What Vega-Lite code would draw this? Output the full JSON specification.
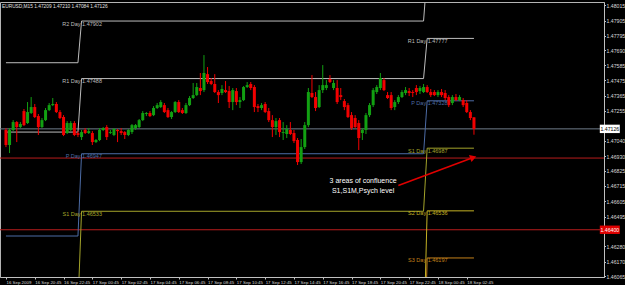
{
"$schema": "https://vega.github.io/schema/vega-lite/v6.json",
"width": 604, "height": 275,
"autosize": {"type": "none"},
"padding": {"left": 0, "top": 2, "right": 21, "bottom": 8},
"background": "#000000",
"title": {"text": "EURUSD,M15  1.47209 1.47210 1.47084 1.47126", "anchor": "start", "frame": "group", "orient": "top", "offset": -7, "fontSize": 4.8, "fontWeight": "normal", "color": "#e0e0e0", "font": "Liberation Sans", "dx": 2},
"config": {"view": {"stroke": "#b4b4b4", "fill": "#000000"}, "font": "Liberation Sans", "axis": {"labelOverlap": false, "labelBound": false, "labelFlush": false, "grid": false, "tickCount": 40}},
"datasets": {
"hlines": [
{"name": "bid", "p": 1.47126},
{"name": "alarm", "p": 1.46916},
{"name": "alarm", "p": 1.464}
],
"pivots": [
{"level": "R2", "t": "2009-09-16T18:45", "p": 1.47602}, {"level": "R2", "t": "2009-09-16T23:45", "p": 1.47602}, {"level": "R2", "t": "2009-09-17T00:00", "p": 1.47902}, {"level": "R2", "t": "2009-09-17T23:45", "p": 1.47902}, {"level": "R2", "t": "2009-09-18T00:00", "p": 1.4825}, {"level": "R2", "t": "2009-09-18T03:15", "p": 1.4825},
{"level": "R1", "t": "2009-09-16T18:45", "p": 1.47103}, {"level": "R1", "t": "2009-09-16T23:45", "p": 1.47103}, {"level": "R1", "t": "2009-09-17T00:00", "p": 1.47488}, {"level": "R1", "t": "2009-09-17T23:45", "p": 1.47488}, {"level": "R1", "t": "2009-09-18T00:00", "p": 1.47777}, {"level": "R1", "t": "2009-09-18T03:15", "p": 1.47777},
{"level": "P", "t": "2009-09-16T18:45", "p": 1.46355}, {"level": "P", "t": "2009-09-16T23:45", "p": 1.46355}, {"level": "P", "t": "2009-09-17T00:00", "p": 1.46947}, {"level": "P", "t": "2009-09-17T23:45", "p": 1.46947}, {"level": "P", "t": "2009-09-18T00:00", "p": 1.47328}, {"level": "P", "t": "2009-09-18T03:15", "p": 1.47328},
{"level": "S1", "t": "2009-09-16T18:45", "p": 1.4585}, {"level": "S1", "t": "2009-09-16T23:45", "p": 1.4585}, {"level": "S1", "t": "2009-09-17T00:00", "p": 1.46533}, {"level": "S1", "t": "2009-09-17T23:45", "p": 1.46533}, {"level": "S1", "t": "2009-09-18T00:00", "p": 1.46987}, {"level": "S1", "t": "2009-09-18T03:15", "p": 1.46987},
{"level": "S2", "t": "2009-09-16T18:45", "p": 1.455}, {"level": "S2", "t": "2009-09-16T23:45", "p": 1.455}, {"level": "S2", "t": "2009-09-17T00:00", "p": 1.4555}, {"level": "S2", "t": "2009-09-17T23:45", "p": 1.4555}, {"level": "S2", "t": "2009-09-18T00:00", "p": 1.46536}, {"level": "S2", "t": "2009-09-18T03:15", "p": 1.46536},
{"level": "S3", "t": "2009-09-16T18:45", "p": 1.452}, {"level": "S3", "t": "2009-09-16T23:45", "p": 1.452}, {"level": "S3", "t": "2009-09-17T00:00", "p": 1.452}, {"level": "S3", "t": "2009-09-17T23:45", "p": 1.452}, {"level": "S3", "t": "2009-09-18T00:00", "p": 1.46197}, {"level": "S3", "t": "2009-09-18T03:15", "p": 1.46197}
],
"plabels": [
{"level": "R2", "t": "2009-09-17T00:00", "p": 1.47902, "name": "R2 Day"},
{"level": "R1", "t": "2009-09-17T00:00", "p": 1.47488, "name": "R1 Day"},
{"level": "P", "t": "2009-09-17T00:00", "p": 1.46947, "name": "P Day"},
{"level": "S1", "t": "2009-09-17T00:00", "p": 1.46533, "name": "S1 Day"},
{"level": "R1", "t": "2009-09-18T00:00", "p": 1.47777, "name": "R1 Day"},
{"level": "P", "t": "2009-09-18T00:00", "p": 1.47328, "name": "P Day"},
{"level": "S1", "t": "2009-09-18T00:00", "p": 1.46987, "name": "S1 Day"},
{"level": "S2", "t": "2009-09-18T00:00", "p": 1.46536, "name": "S2 Day"},
{"level": "S3", "t": "2009-09-18T00:00", "p": 1.46197, "name": "S3 Day"}
],
"notes": [
{"t": "2009-09-17T19:33", "p": 1.46754, "text": "3 areas of confluence"},
{"t": "2009-09-17T19:33", "p": 1.46679, "text": "S1,S1M,Psych level"}
],
"arrow": [
{"seq": 1, "t": "2009-09-17T22:00", "p": 1.46718},
{"seq": 2, "t": "2009-09-18T03:12", "p": 1.4692}
],
"tags": [
{"name": "bid", "p": 1.47126},
{"name": "alarm", "p": 1.464}
],
"candles": [
{"t":"2009-09-16T18:45","o":1.47118,"h":1.47132,"l":1.46995,"c":1.4701},
{"t":"2009-09-16T19:00","o":1.4701,"h":1.47132,"l":1.46952,"c":1.47118},
{"t":"2009-09-16T19:15","o":1.47118,"h":1.47189,"l":1.4711,"c":1.47175},
{"t":"2009-09-16T19:30","o":1.47175,"h":1.47182,"l":1.47031,"c":1.47139},
{"t":"2009-09-16T19:45","o":1.47139,"h":1.47175,"l":1.47132,"c":1.47161},
{"t":"2009-09-16T20:00","o":1.47254,"h":1.47269,"l":1.47146,"c":1.47153},
{"t":"2009-09-16T20:15","o":1.47168,"h":1.47319,"l":1.47161,"c":1.47247},
{"t":"2009-09-16T20:30","o":1.4724,"h":1.47355,"l":1.47233,"c":1.47283},
{"t":"2009-09-16T20:45","o":1.47283,"h":1.47305,"l":1.47204,"c":1.47211},
{"t":"2009-09-16T21:00","o":1.47218,"h":1.47233,"l":1.47082,"c":1.47139},
{"t":"2009-09-16T21:15","o":1.47139,"h":1.47204,"l":1.47132,"c":1.47189},
{"t":"2009-09-16T21:30","o":1.47189,"h":1.47276,"l":1.47182,"c":1.47261},
{"t":"2009-09-16T21:45","o":1.47261,"h":1.47312,"l":1.47254,"c":1.47297},
{"t":"2009-09-16T22:00","o":1.47297,"h":1.47348,"l":1.4729,"c":1.47305},
{"t":"2009-09-16T22:15","o":1.47305,"h":1.47319,"l":1.4724,"c":1.47247},
{"t":"2009-09-16T22:30","o":1.47247,"h":1.47261,"l":1.47197,"c":1.47204},
{"t":"2009-09-16T22:45","o":1.47211,"h":1.47225,"l":1.47074,"c":1.47082},
{"t":"2009-09-16T23:00","o":1.47096,"h":1.47182,"l":1.47089,"c":1.47168},
{"t":"2009-09-16T23:15","o":1.47118,"h":1.47182,"l":1.4711,"c":1.47168},
{"t":"2009-09-16T23:30","o":1.47168,"h":1.47182,"l":1.47074,"c":1.47082},
{"t":"2009-09-16T23:45","o":1.47096,"h":1.4711,"l":1.47067,"c":1.47082},
{"t":"2009-09-17T00:00","o":1.47067,"h":1.47118,"l":1.47046,"c":1.47103},
{"t":"2009-09-17T00:15","o":1.47118,"h":1.47132,"l":1.47089,"c":1.47096},
{"t":"2009-09-17T00:30","o":1.47096,"h":1.47132,"l":1.47089,"c":1.4711},
{"t":"2009-09-17T00:45","o":1.47096,"h":1.4711,"l":1.4701,"c":1.47031},
{"t":"2009-09-17T01:00","o":1.47031,"h":1.47053,"l":1.47024,"c":1.47046},
{"t":"2009-09-17T01:15","o":1.47046,"h":1.47132,"l":1.47038,"c":1.47118},
{"t":"2009-09-17T01:30","o":1.47118,"h":1.47139,"l":1.4711,"c":1.47132},
{"t":"2009-09-17T01:45","o":1.47139,"h":1.47153,"l":1.47046,"c":1.47067},
{"t":"2009-09-17T02:00","o":1.47096,"h":1.47118,"l":1.47089,"c":1.47103},
{"t":"2009-09-17T02:15","o":1.47082,"h":1.47132,"l":1.47074,"c":1.47125},
{"t":"2009-09-17T02:30","o":1.47118,"h":1.47125,"l":1.47031,"c":1.4711},
{"t":"2009-09-17T02:45","o":1.4711,"h":1.47132,"l":1.47082,"c":1.47096},
{"t":"2009-09-17T03:00","o":1.47103,"h":1.4711,"l":1.47053,"c":1.47082},
{"t":"2009-09-17T03:15","o":1.47082,"h":1.47125,"l":1.47074,"c":1.47118},
{"t":"2009-09-17T03:30","o":1.47103,"h":1.47161,"l":1.47089,"c":1.47153},
{"t":"2009-09-17T03:45","o":1.47132,"h":1.47161,"l":1.47118,"c":1.47153},
{"t":"2009-09-17T04:00","o":1.47139,"h":1.47197,"l":1.47132,"c":1.47189},
{"t":"2009-09-17T04:15","o":1.47189,"h":1.47254,"l":1.47182,"c":1.4724},
{"t":"2009-09-17T04:30","o":1.47233,"h":1.47247,"l":1.47218,"c":1.4724},
{"t":"2009-09-17T04:45","o":1.4724,"h":1.47254,"l":1.47211,"c":1.47218},
{"t":"2009-09-17T05:00","o":1.47225,"h":1.4729,"l":1.47218,"c":1.47276},
{"t":"2009-09-17T05:15","o":1.47276,"h":1.47312,"l":1.47269,"c":1.47297},
{"t":"2009-09-17T05:30","o":1.47283,"h":1.47333,"l":1.47276,"c":1.47319},
{"t":"2009-09-17T05:45","o":1.47297,"h":1.47312,"l":1.4724,"c":1.47247},
{"t":"2009-09-17T06:00","o":1.47261,"h":1.47276,"l":1.47204,"c":1.47211},
{"t":"2009-09-17T06:15","o":1.47211,"h":1.47254,"l":1.47197,"c":1.47247},
{"t":"2009-09-17T06:30","o":1.47247,"h":1.47326,"l":1.4724,"c":1.47319},
{"t":"2009-09-17T06:45","o":1.47319,"h":1.47333,"l":1.4724,"c":1.47247},
{"t":"2009-09-17T07:00","o":1.47261,"h":1.47276,"l":1.47233,"c":1.4724},
{"t":"2009-09-17T07:15","o":1.4724,"h":1.47312,"l":1.47233,"c":1.47297},
{"t":"2009-09-17T07:30","o":1.47297,"h":1.47362,"l":1.4729,"c":1.47348},
{"t":"2009-09-17T07:45","o":1.47348,"h":1.47456,"l":1.47341,"c":1.47369},
{"t":"2009-09-17T08:00","o":1.47369,"h":1.47456,"l":1.47362,"c":1.47427},
{"t":"2009-09-17T08:15","o":1.4742,"h":1.47528,"l":1.47369,"c":1.47398},
{"t":"2009-09-17T08:30","o":1.47405,"h":1.47657,"l":1.47391,"c":1.47528},
{"t":"2009-09-17T08:45","o":1.4752,"h":1.47571,"l":1.47449,"c":1.47463},
{"t":"2009-09-17T09:00","o":1.4747,"h":1.47492,"l":1.47441,"c":1.47449},
{"t":"2009-09-17T09:15","o":1.47449,"h":1.4752,"l":1.47384,"c":1.47391},
{"t":"2009-09-17T09:30","o":1.47391,"h":1.47405,"l":1.47312,"c":1.47369},
{"t":"2009-09-17T09:45","o":1.47384,"h":1.47441,"l":1.47369,"c":1.47413},
{"t":"2009-09-17T10:00","o":1.47405,"h":1.4747,"l":1.47384,"c":1.47391},
{"t":"2009-09-17T10:15","o":1.47398,"h":1.47434,"l":1.47276,"c":1.47319},
{"t":"2009-09-17T10:30","o":1.47319,"h":1.4742,"l":1.47261,"c":1.47405},
{"t":"2009-09-17T10:45","o":1.47398,"h":1.4742,"l":1.47297,"c":1.47319},
{"t":"2009-09-17T11:00","o":1.47319,"h":1.47355,"l":1.47276,"c":1.47333},
{"t":"2009-09-17T11:15","o":1.47333,"h":1.47434,"l":1.47326,"c":1.47427},
{"t":"2009-09-17T11:30","o":1.47427,"h":1.47463,"l":1.4742,"c":1.47441},
{"t":"2009-09-17T11:45","o":1.47449,"h":1.47463,"l":1.47405,"c":1.4742},
{"t":"2009-09-17T12:00","o":1.47427,"h":1.47441,"l":1.47247,"c":1.47283},
{"t":"2009-09-17T12:15","o":1.4729,"h":1.47305,"l":1.47247,"c":1.47276},
{"t":"2009-09-17T12:30","o":1.47276,"h":1.47312,"l":1.47261,"c":1.47297},
{"t":"2009-09-17T12:45","o":1.47305,"h":1.47319,"l":1.4724,"c":1.47247},
{"t":"2009-09-17T13:00","o":1.47254,"h":1.47276,"l":1.47175,"c":1.47189},
{"t":"2009-09-17T13:15","o":1.47189,"h":1.47225,"l":1.47067,"c":1.47139},
{"t":"2009-09-17T13:30","o":1.47139,"h":1.47204,"l":1.47082,"c":1.47182},
{"t":"2009-09-17T13:45","o":1.47189,"h":1.47204,"l":1.47067,"c":1.47103},
{"t":"2009-09-17T14:00","o":1.47096,"h":1.47175,"l":1.47046,"c":1.47103},
{"t":"2009-09-17T14:15","o":1.47089,"h":1.47153,"l":1.4706,"c":1.47125},
{"t":"2009-09-17T14:30","o":1.47118,"h":1.47175,"l":1.47082,"c":1.47089},
{"t":"2009-09-17T14:45","o":1.47096,"h":1.47118,"l":1.47024,"c":1.47038},
{"t":"2009-09-17T15:00","o":1.47046,"h":1.4706,"l":1.46866,"c":1.46887},
{"t":"2009-09-17T15:15","o":1.46887,"h":1.47053,"l":1.46873,"c":1.46995},
{"t":"2009-09-17T15:30","o":1.46995,"h":1.47175,"l":1.46981,"c":1.47153},
{"t":"2009-09-17T15:45","o":1.47153,"h":1.4742,"l":1.47139,"c":1.47391},
{"t":"2009-09-17T16:00","o":1.47384,"h":1.47513,"l":1.47348,"c":1.47355},
{"t":"2009-09-17T16:15","o":1.47355,"h":1.47391,"l":1.47254,"c":1.47276},
{"t":"2009-09-17T16:30","o":1.47283,"h":1.47441,"l":1.47276,"c":1.47405},
{"t":"2009-09-17T16:45","o":1.47405,"h":1.47585,"l":1.47384,"c":1.47441},
{"t":"2009-09-17T17:00","o":1.4742,"h":1.47477,"l":1.47405,"c":1.47441},
{"t":"2009-09-17T17:15","o":1.47485,"h":1.47513,"l":1.47456,"c":1.47463},
{"t":"2009-09-17T17:30","o":1.4742,"h":1.47477,"l":1.47405,"c":1.47456},
{"t":"2009-09-17T17:45","o":1.4742,"h":1.47477,"l":1.47305,"c":1.47319},
{"t":"2009-09-17T18:00","o":1.47369,"h":1.4742,"l":1.47333,"c":1.47355},
{"t":"2009-09-17T18:15","o":1.47326,"h":1.47341,"l":1.47261,"c":1.47283},
{"t":"2009-09-17T18:30","o":1.47297,"h":1.47312,"l":1.47204,"c":1.47211},
{"t":"2009-09-17T18:45","o":1.47225,"h":1.47247,"l":1.47118,"c":1.47132},
{"t":"2009-09-17T19:00","o":1.47204,"h":1.47225,"l":1.47132,"c":1.47139},
{"t":"2009-09-17T19:15","o":1.47168,"h":1.47189,"l":1.46974,"c":1.4706},
{"t":"2009-09-17T19:30","o":1.47096,"h":1.47132,"l":1.47046,"c":1.47118},
{"t":"2009-09-17T19:45","o":1.47118,"h":1.4724,"l":1.47089,"c":1.47225},
{"t":"2009-09-17T20:00","o":1.47225,"h":1.47312,"l":1.47211,"c":1.47297},
{"t":"2009-09-17T20:15","o":1.47297,"h":1.4742,"l":1.47283,"c":1.47405},
{"t":"2009-09-17T20:30","o":1.47391,"h":1.47441,"l":1.47377,"c":1.47427},
{"t":"2009-09-17T20:45","o":1.4742,"h":1.47528,"l":1.47405,"c":1.47492},
{"t":"2009-09-17T21:00","o":1.47477,"h":1.47492,"l":1.47398,"c":1.47405},
{"t":"2009-09-17T21:15","o":1.47369,"h":1.47391,"l":1.47341,"c":1.47348},
{"t":"2009-09-17T21:30","o":1.47369,"h":1.47391,"l":1.47261,"c":1.47276},
{"t":"2009-09-17T21:45","o":1.47283,"h":1.47333,"l":1.47261,"c":1.47319},
{"t":"2009-09-17T22:00","o":1.47319,"h":1.47369,"l":1.47305,"c":1.47355},
{"t":"2009-09-17T22:15","o":1.47355,"h":1.47405,"l":1.47348,"c":1.47391},
{"t":"2009-09-17T22:30","o":1.47384,"h":1.47427,"l":1.47369,"c":1.47405},
{"t":"2009-09-17T22:45","o":1.47398,"h":1.4742,"l":1.47362,"c":1.47384},
{"t":"2009-09-17T23:00","o":1.47391,"h":1.47405,"l":1.47355,"c":1.47384},
{"t":"2009-09-17T23:15","o":1.4742,"h":1.47441,"l":1.47369,"c":1.47391},
{"t":"2009-09-17T23:30","o":1.47398,"h":1.47434,"l":1.47377,"c":1.4742},
{"t":"2009-09-17T23:45","o":1.47391,"h":1.47449,"l":1.47384,"c":1.47427},
{"t":"2009-09-18T00:00","o":1.47427,"h":1.47441,"l":1.47384,"c":1.47391},
{"t":"2009-09-18T00:15","o":1.47391,"h":1.47413,"l":1.47355,"c":1.47369},
{"t":"2009-09-18T00:30","o":1.47391,"h":1.47405,"l":1.47362,"c":1.47369},
{"t":"2009-09-18T00:45","o":1.47369,"h":1.47405,"l":1.47355,"c":1.47391},
{"t":"2009-09-18T01:00","o":1.47391,"h":1.47413,"l":1.47355,"c":1.47369},
{"t":"2009-09-18T01:15","o":1.47384,"h":1.47405,"l":1.47333,"c":1.47348},
{"t":"2009-09-18T01:30","o":1.47355,"h":1.47369,"l":1.47283,"c":1.47297},
{"t":"2009-09-18T01:45","o":1.47312,"h":1.47369,"l":1.47297,"c":1.47355},
{"t":"2009-09-18T02:00","o":1.47355,"h":1.47377,"l":1.47326,"c":1.47333},
{"t":"2009-09-18T02:15","o":1.47333,"h":1.47369,"l":1.47326,"c":1.47355},
{"t":"2009-09-18T02:30","o":1.47333,"h":1.47348,"l":1.47283,"c":1.47297},
{"t":"2009-09-18T02:45","o":1.47312,"h":1.47333,"l":1.4724,"c":1.47247},
{"t":"2009-09-18T03:00","o":1.47247,"h":1.47261,"l":1.47189,"c":1.47204},
{"t":"2009-09-18T03:15","o":1.47209,"h":1.4721,"l":1.47084,"c":1.47126}
]
},
"layer": [
{"data": {"name": "hlines"}, "mark": {"type": "rule", "strokeWidth": 1},
 "encoding": {
  "y": {"field": "p", "type": "quantitative"},
  "color": {"field": "name", "type": "nominal", "legend": null,
   "scale": {"domain": ["R2", "R1", "P", "S1", "S2", "S3", "bid", "alarm"], "range": ["#bdbdbd", "#bdbdbd", "#4d6ca6", "#a4a42a", "#c4b224", "#c4801a", "#6f7c8a", "#b81c1c"]}}}},
{"data": {"name": "pivots"}, "mark": {"type": "line", "clip": true, "strokeWidth": 1},
 "encoding": {
  "x": {"field": "t", "type": "temporal"},
  "y": {"field": "p", "type": "quantitative"},
  "color": {"field": "level", "type": "nominal", "legend": null}}},
{"data": {"name": "candles"}, "mark": {"type": "rule", "strokeWidth": 1},
 "encoding": {
  "x": {"field": "t", "type": "temporal"},
  "y": {"field": "l", "type": "quantitative"},
  "y2": {"field": "h"},
  "color": {"condition": {"test": "datum.c >= datum.o", "value": "#12a012"}, "value": "#f20000"}}},
{"data": {"name": "candles"}, "mark": {"type": "bar", "width": 3},
 "encoding": {
  "x": {"field": "t", "type": "temporal",
   "scale": {"domain": [{"year": 2009, "month": 9, "date": 16, "hours": 18, "minutes": 41}, {"year": 2009, "month": 9, "date": 18, "hours": 11, "minutes": 56}], "nice": false},
   "axis": {"title": null, "grid": false, "orient": "bottom", "tickCount": 40,
    "values": [
     {"year": 2009, "month": 9, "date": 16, "hours": 18, "minutes": 45},
     {"year": 2009, "month": 9, "date": 16, "hours": 20, "minutes": 45},
     {"year": 2009, "month": 9, "date": 16, "hours": 22, "minutes": 45},
     {"year": 2009, "month": 9, "date": 17, "hours": 0, "minutes": 45},
     {"year": 2009, "month": 9, "date": 17, "hours": 2, "minutes": 45},
     {"year": 2009, "month": 9, "date": 17, "hours": 4, "minutes": 45},
     {"year": 2009, "month": 9, "date": 17, "hours": 6, "minutes": 45},
     {"year": 2009, "month": 9, "date": 17, "hours": 8, "minutes": 45},
     {"year": 2009, "month": 9, "date": 17, "hours": 10, "minutes": 45},
     {"year": 2009, "month": 9, "date": 17, "hours": 12, "minutes": 45},
     {"year": 2009, "month": 9, "date": 17, "hours": 14, "minutes": 45},
     {"year": 2009, "month": 9, "date": 17, "hours": 16, "minutes": 45},
     {"year": 2009, "month": 9, "date": 17, "hours": 18, "minutes": 45},
     {"year": 2009, "month": 9, "date": 17, "hours": 20, "minutes": 45},
     {"year": 2009, "month": 9, "date": 17, "hours": 22, "minutes": 45},
     {"year": 2009, "month": 9, "date": 18, "hours": 0, "minutes": 45},
     {"year": 2009, "month": 9, "date": 18, "hours": 2, "minutes": 45}],
    "labelExpr": "date(datum.value) == 16 && hours(datum.value) == 18 ? timeFormat(datum.value, '%d %b %Y') : timeFormat(datum.value, '%d %b %H:%M')",
    "labelAlign": "left", "labelFlush": false, "labelOverlap": false, "labelBound": false,
    "labelFont": "Liberation Sans", "labelFontSize": 4.4, "labelColor": "#d8d8d8", "labelPadding": 1,
    "tickSize": 2, "tickColor": "#c0c0c0", "domainColor": "#c0c0c0"}},
  "y": {"field": "o", "type": "quantitative",
   "scale": {"domain": [1.4606, 1.48039], "nice": false, "zero": false},
   "axis": {"title": null, "grid": false, "orient": "right", "tickCount": 40,
    "values": [1.48015, 1.47905, 1.47795, 1.4769, 1.47585, 1.47475, 1.47365, 1.47255, 1.4704, 1.4693, 1.46825, 1.46715, 1.46605, 1.46495, 1.4628, 1.4617, 1.46065],
    "format": ".5f", "labelFont": "Liberation Sans", "labelFontSize": 5.2, "labelColor": "#d8d8d8", "labelPadding": 0.5, "labelOverlap": false, "labelBound": false, "labelFlush": false,
    "tickSize": 1.5, "tickColor": "#c0c0c0", "domainColor": "#c0c0c0"}},
  "y2": {"field": "c"},
  "color": {"condition": {"test": "datum.c >= datum.o", "value": "#12a012"}, "value": "#f20000"}}},
{"data": {"name": "plabels"}, "mark": {"type": "text", "align": "right", "baseline": "top", "dx": -1, "dy": 0.5, "fontSize": 5.5, "font": "Liberation Sans"},
 "encoding": {
  "x": {"field": "t", "type": "temporal"},
  "y": {"field": "p", "type": "quantitative"},
  "text": {"field": "name"},
  "color": {"field": "level", "type": "nominal", "legend": null}}},
{"data": {"name": "plabels"}, "mark": {"type": "text", "align": "left", "baseline": "top", "dx": 0.5, "dy": 0.5, "fontSize": 5.5, "font": "Liberation Sans"},
 "encoding": {
  "x": {"field": "t", "type": "temporal"},
  "y": {"field": "p", "type": "quantitative"},
  "text": {"field": "p", "type": "quantitative", "format": ".5f"},
  "color": {"field": "level", "type": "nominal", "legend": null}}},
{"data": {"name": "notes"}, "mark": {"type": "text", "align": "center", "baseline": "middle", "fontSize": 7, "font": "Liberation Sans", "color": "#ffffff"},
 "encoding": {
  "x": {"field": "t", "type": "temporal"},
  "y": {"field": "p", "type": "quantitative"},
  "text": {"field": "text"}}},
{"data": {"name": "arrow"}, "mark": {"type": "line", "color": "#e00000", "strokeWidth": 1.5},
 "encoding": {
  "x": {"field": "t", "type": "temporal"},
  "y": {"field": "p", "type": "quantitative"},
  "order": {"field": "seq"}}},
{"data": {"name": "arrow"}, "transform": [{"filter": "datum.seq == 2"}],
 "mark": {"type": "point", "shape": "triangle-right", "filled": true, "size": 55, "angle": -20, "color": "#e00000", "opacity": 1},
 "encoding": {
  "x": {"field": "t", "type": "temporal"},
  "y": {"field": "p", "type": "quantitative"}}},
{"data": {"name": "tags"}, "mark": {"type": "point", "shape": "M-1,-0.42L1,-0.42L1,0.42L-1,0.42Z", "size": 400, "filled": true, "opacity": 1, "strokeWidth": 0},
 "encoding": {
  "x": {"datum": {"year": 2009, "month": 9, "date": 18, "hours": 12, "minutes": 41}, "type": "temporal"},
  "y": {"field": "p", "type": "quantitative"},
  "color": {"condition": {"test": "datum.name == 'bid'", "value": "#ffffff"}, "value": "#e00000"}}},
{"data": {"name": "tags"}, "mark": {"type": "text", "align": "center", "baseline": "middle", "fontSize": 5.2, "font": "Liberation Sans"},
 "encoding": {
  "x": {"datum": {"year": 2009, "month": 9, "date": 18, "hours": 12, "minutes": 41}, "type": "temporal"},
  "y": {"field": "p", "type": "quantitative"},
  "text": {"field": "p", "type": "quantitative", "format": ".5f"},
  "color": {"condition": {"test": "datum.name == 'bid'", "value": "#000000"}, "value": "#ffffff"}}}
]
}
